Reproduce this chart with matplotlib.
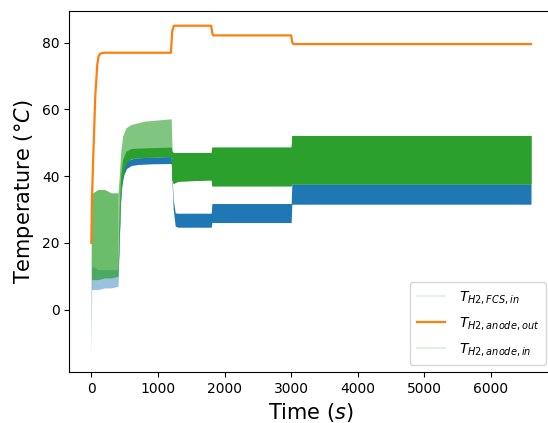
import matplotlib
matplotlib.use('Agg')
import matplotlib.pyplot as plt
from matplotlib.lines import Line2D
import numpy as np

# H2 temperatures (envelopes of the fast oscillation)
t_fcs = [0, 5, 20, 100, 200, 300, 400, 420, 440, 460, 490, 530, 600, 700, 900, 1200,
         1210, 1230, 1260, 1300, 1800, 1810, 3000, 3010, 6600]
fcs_lo = [-14, 6, 6, 6, 6.5, 6.5, 7, 20, 32, 37.5, 40.5, 42.3, 43.2, 43.5, 43.7, 43.8,
          38.9, 30, 25, 24.7, 24.7, 26.1, 26.1, 31.6, 31.6]
fcs_hi = [20, 12, 13, 12, 12, 12, 12, 24, 35, 40, 43, 44.5, 45.2, 45.5, 45.7, 45.9,
          41, 33, 29, 28.9, 28.9, 31.8, 31.8, 37.7, 37.7]

t_out = [0, 10, 30, 60, 90, 110, 140, 200, 1195, 1215, 1240, 1800, 1815, 1830,
         3000, 3015, 3030, 6600]
anode_out = [20, 33, 46, 64, 73.5, 76, 76.8, 77, 77, 83.5, 85.1, 85.1, 83, 82.2,
             82.2, 80.2, 79.6, 79.6]

t_in = [0, 5, 20, 100, 200, 300, 400, 420, 440, 470, 520, 600, 800, 1200,
        1210, 1230, 1300, 1800, 1810, 3000, 3010, 6600]
in_lo = [-14, 9, 9, 9, 9.5, 9.5, 10, 22, 34, 40, 44, 45.3, 45.6, 45.9,
         39, 37.8, 38.5, 38.9, 37.1, 37.1, 37.7, 37.7]
in_hi = [20, 33, 35, 36, 36, 35, 35, 40, 47, 52, 54.5, 55.5, 56.5, 57.2,
         47.5, 47.1, 47.1, 47.1, 48.7, 48.7, 52.2, 52.2]
in_core_hi = [-14, 9, 9, 9, 9.5, 9.5, 10, 30, 40, 45, 47.5, 48.3, 48.5, 48.7,
              47.5, 47.1, 47.1, 47.1, 48.7, 48.7, 52.2, 52.2]

fig = plt.figure(figsize=(5.48, 4.23), dpi=100)
ax = fig.add_axes([69.3 / 548, 1 - 372 / 423, (553 - 69.3) / 548, (372 - 10.7) / 423])

t_fcs_a = np.array(t_fcs)
t_in_a = np.array(t_in)

# FCS inlet (blue): light during start-up, dense afterwards
ax.fill_between(t_fcs, fcs_lo, fcs_hi, where=t_fcs_a <= 400, color='C0', alpha=0.45, lw=0)
ax.fill_between(t_fcs, fcs_lo, fcs_hi, where=t_fcs_a >= 400, color='C0', lw=0)

# anode outlet (orange)
ax.plot(t_out, anode_out, color='C1', lw=1.6)

# anode inlet (green): spikes lighter, dense core solid
ax.fill_between(t_in, in_lo, in_hi, where=t_in_a <= 400, color='C2', alpha=0.7, lw=0)
ax.fill_between(t_in, in_lo, in_hi, where=(t_in_a >= 400) & (t_in_a <= 1200),
                color='C2', alpha=0.6, lw=0)
ax.fill_between(t_in, in_lo, in_core_hi, where=t_in_a >= 400, color='C2', lw=0)
ax.fill_between(t_in, in_lo, in_hi, where=t_in_a >= 1200, color='C2', lw=0)

ax.set_xlim(-330, 6930)
ax.set_ylim(-18.7, 89.6)
ax.set_xticks([0, 1000, 2000, 3000, 4000, 5000, 6000])
ax.set_yticks([0, 20, 40, 60, 80])
ax.set_xlabel('Time ($s$)', fontsize=15)
ax.set_ylabel('Temperature ($°C$)', fontsize=15)

handles = [Line2D([], [], color='C0', alpha=0.12),
           Line2D([], [], color='C1', lw=1.6),
           Line2D([], [], color='C2', alpha=0.15)]
labels = [r'$T_{H2,FCS,in}$', r'$T_{H2,anode,out}$', r'$T_{H2,anode,in}$']
ax.legend(handles, labels, loc='lower right', fontsize=10,
          labelspacing=0.65, handletextpad=1.0, borderpad=0.5)

plt.savefig('out.png', dpi=100)
plt.close()
